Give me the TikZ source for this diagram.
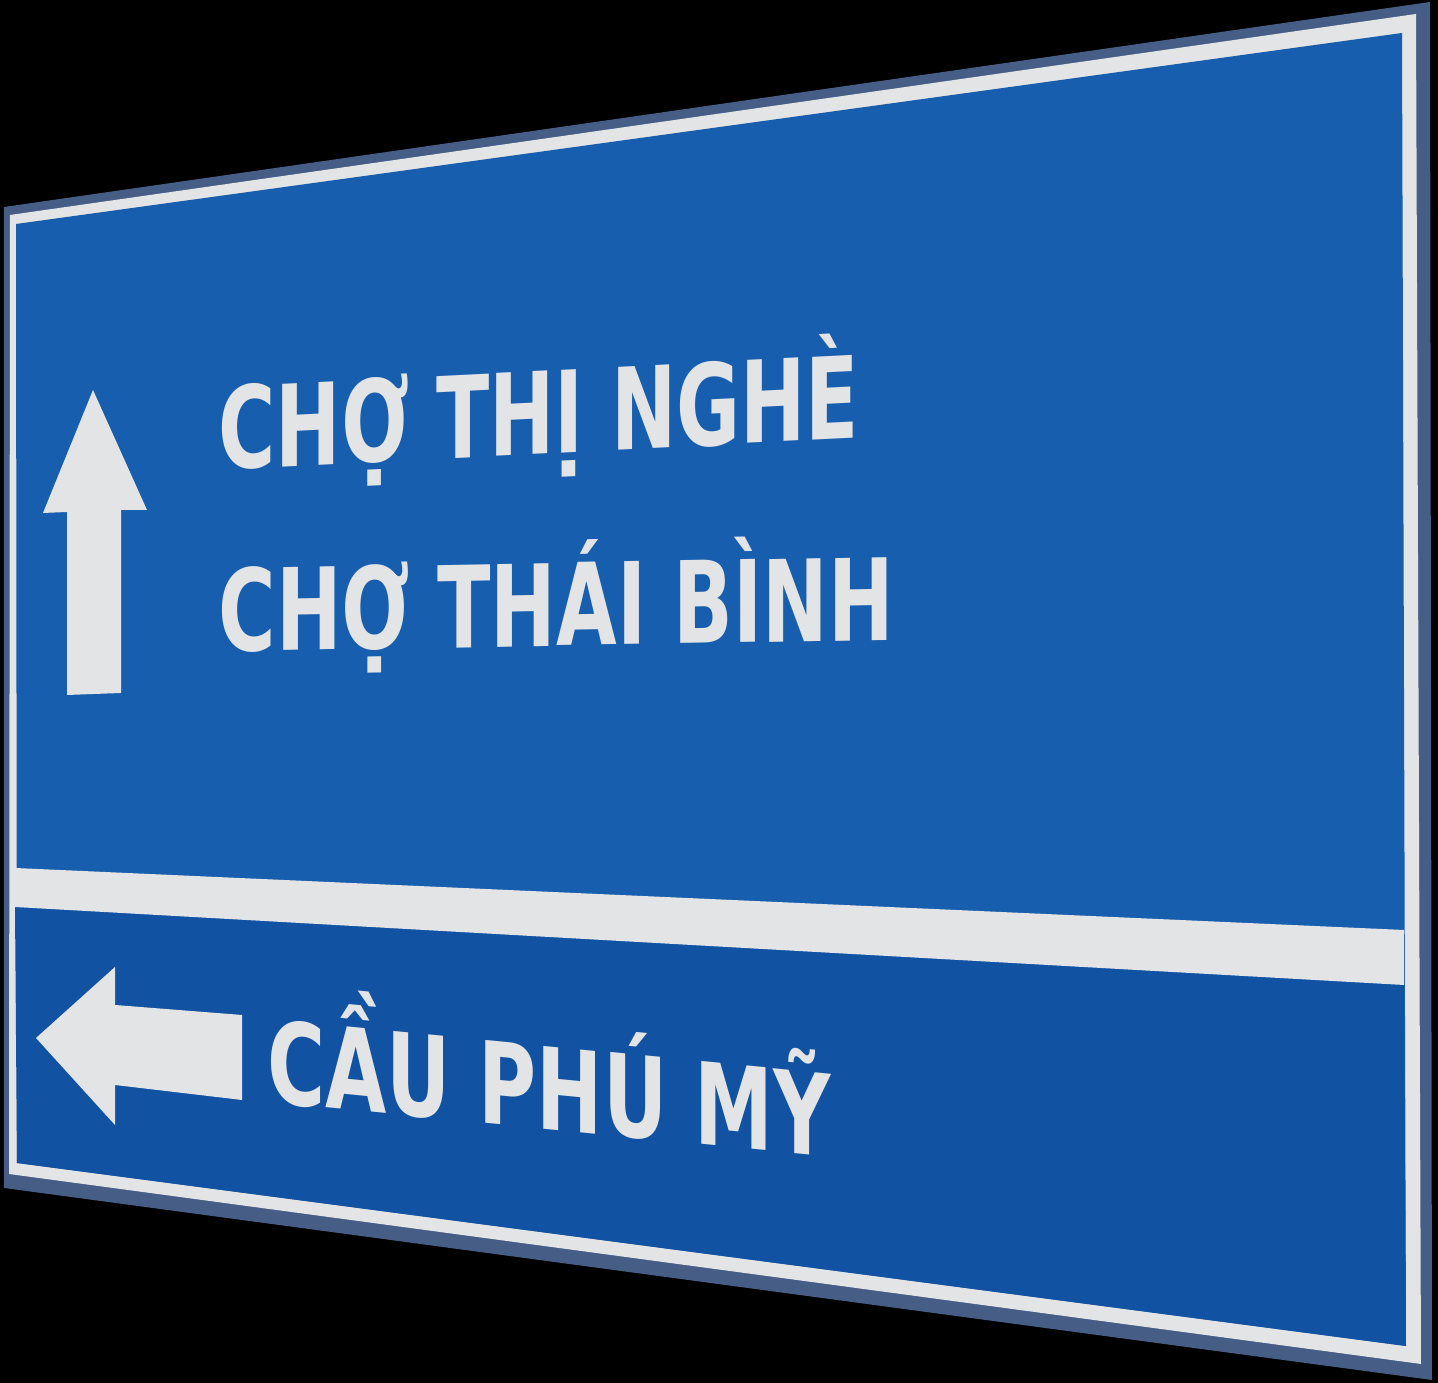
\documentclass[tikz,border=0pt]{standalone}
\usepackage{fontspec}
\setsansfont{DejaVu Sans}
\usepackage{xcolor}

\definecolor{rimgray}{RGB}{70,94,134}
\definecolor{signwhite}{RGB}{226,228,230}
\definecolor{signblue}{RGB}{24,94,174}
\definecolor{signdark}{RGB}{18,82,162}

\begin{document}
\begin{tikzpicture}[x=0.01cm, y=-0.01cm,
    signtext/.style={inner sep=0pt, anchor=base west, text=signwhite,
        font=\sffamily\bfseries\fontsize{32.3}{36}\selectfont}]
        \fill[black] (0,0) rectangle (1438,1383);
        \useasboundingbox (0,0) rectangle (1438,1383);
        % plate, rim and panels
        \fill[rimgray] (4,207) -- (1430,2) -- (1432,1380) -- (4,1188) -- cycle;
        \fill[signwhite] (10,215) -- (1416,14) -- (1421,1364) -- (9,1174) -- cycle;
        \fill[signblue] (16,224) -- (1402,33) -- (1406,1346) -- (17,1163) -- cycle;
        \fill[signdark] (15,907) -- (1404,985) -- (1406,1346) -- (17,1163) -- cycle;
        \fill[signwhite] (15,868) -- (1404,930) -- (1404,985) -- (15,907) -- cycle;
        % arrows
        \fill[signwhite] (93,390) -- (147,510) -- (121,510) -- (121,693) -- (67,695)
            -- (67,512) -- (43,513) -- cycle;
        \fill[signwhite] (36,1038) -- (115,967) -- (115,1005) -- (242,1015)
            -- (242,1100) -- (115,1085) -- (115,1125) -- cycle;
        % place names
        \foreach \i/\x/\y/\a/\b/\t in {1/218/470/0.687/0.0343/CHỢ THỊ NGHÈ,
            2/218/652/0.690/0.0123/CHỢ THÁI BÌNH, 3/267/1102/0.697/-0.0679/CẦU PHÚ MỸ}
        {
            \node[signtext, cm={\a,\b,0,1,(0,0)}] (place\i) at (\x,\y) {\t};
        }
    \end{tikzpicture}
\end{document}
